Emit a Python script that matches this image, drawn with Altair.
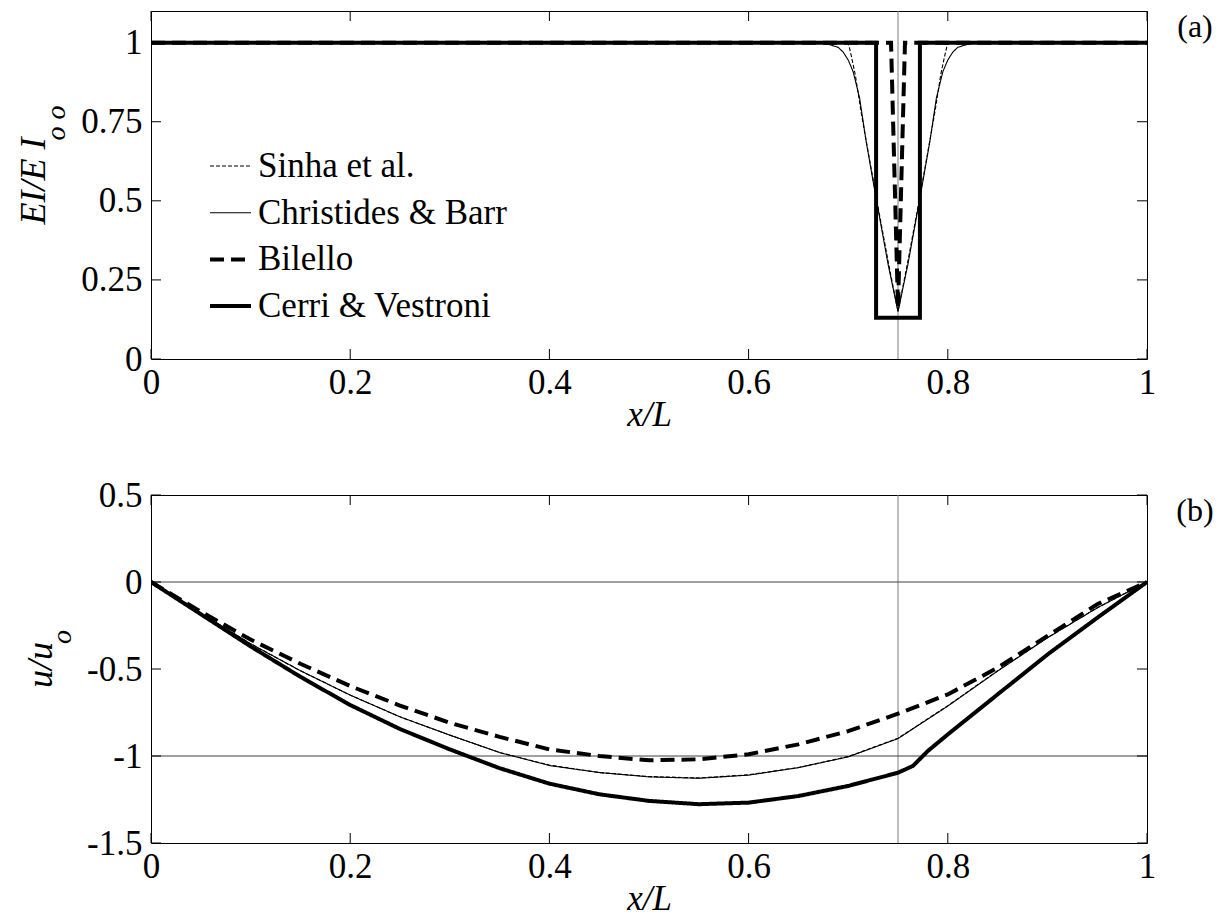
import altair as alt
import pandas as pd

FONT = "Liberation Serif"
SERIES = ["Sinha et al.", "Christides & Barr", "Bilello", "Cerri & Vestroni"]

# ---- Panel (a): EI / Eo Io ----
A_SINHA_X = [0.0, 0.700, 0.703, 0.707, 0.713, 0.722, 0.730, 0.740, 0.750,
             0.760, 0.770, 0.778, 0.787, 0.793, 0.797, 0.800, 1.0]
A_SINHA_Y = [1.0, 1.0, 0.96, 0.90, 0.78, 0.62, 0.48, 0.31, 0.15,
             0.31, 0.48, 0.62, 0.78, 0.90, 0.96, 1.0, 1.0]
A_CHRIS_X = [0.0, 0.670, 0.680, 0.690, 0.695, 0.700, 0.705, 0.7115, 0.718, 0.725,
             0.7316, 0.740, 0.750, 0.760, 0.7684, 0.775, 0.782, 0.7885, 0.795,
             0.800, 0.805, 0.810, 0.820, 0.830, 1.0]
A_CHRIS_Y = [1.0, 1.0, 0.995, 0.985, 0.97, 0.945, 0.908, 0.824, 0.688, 0.562,
             0.446, 0.30, 0.15, 0.30, 0.446, 0.562, 0.688, 0.824, 0.908,
             0.945, 0.97, 0.985, 0.995, 1.0, 1.0]
A_BIL_X = [0.0, 0.743, 0.750, 0.757, 1.0]
A_BIL_Y = [1.0, 1.0, 0.16, 1.0, 1.0]
A_CERRI_X = [0.0, 0.728, 0.728, 0.772, 0.772, 1.0]
A_CERRI_Y = [1.0, 1.0, 0.13, 0.13, 1.0, 1.0]

# ---- Panel (b): u / uo ----
B_X = [0.0, 0.05, 0.10, 0.15, 0.20, 0.25, 0.30, 0.35, 0.40, 0.45, 0.50,
       0.55, 0.60, 0.65, 0.70, 0.75, 0.80, 0.85, 0.90, 0.95, 1.0]
B_SINHA_Y = [0.0, -0.18, -0.355, -0.51, -0.65, -0.775, -0.88, -0.98, -1.052, -1.095, -1.118,
             -1.126, -1.108, -1.066, -1.003, -0.898, -0.711, -0.510, -0.320, -0.148, 0.0]
B_CHRIS_Y = [0.0, -0.18, -0.355, -0.51, -0.65, -0.775, -0.88, -0.98, -1.055, -1.095, -1.12,
             -1.128, -1.11, -1.067, -1.005, -0.90, -0.713, -0.512, -0.321, -0.149, 0.0]
B_BIL_Y = [0.0, -0.17, -0.331, -0.47, -0.598, -0.71, -0.809, -0.89, -0.962, -1.0, -1.025,
           -1.019, -0.99, -0.933, -0.857, -0.757, -0.646, -0.493, -0.31, -0.128, 0.0]
B_CERRI_X = [0.0, 0.05, 0.10, 0.15, 0.20, 0.25, 0.30, 0.35, 0.40, 0.45, 0.50,
             0.55, 0.60, 0.65, 0.70, 0.75, 0.765, 0.78, 0.80, 0.85, 0.90, 0.95, 1.0]
B_CERRI_Y = [0.0, -0.185, -0.37, -0.545, -0.707, -0.845, -0.962, -1.07, -1.159, -1.22, -1.258,
             -1.277, -1.268, -1.23, -1.172, -1.096, -1.057, -0.971, -0.876, -0.646, -0.417, -0.206, 0.0]

X_TICKS = [0, 0.2, 0.4, 0.6, 0.8, 1]
A_Y_TICKS = [0, 0.25, 0.5, 0.75, 1]
B_Y_TICKS = [-1.5, -1, -0.5, 0, 0.5]
CRACK_X = [0.75]
B_HLINES = [0, -1]

# line styles per series: (strokeDash, strokeWidth)
STYLES = [([4, 2], 1.1), ([1, 0], 1.1), ([14, 7], 4.0), ([1, 0], 4.0)]

W, H = 996, 348
TL = 10  # inward tick length


def series_df(xs, ys):
    return pd.DataFrame({"x": xs, "y": ys, "i": list(range(len(xs)))})


A_DATA = [series_df(A_SINHA_X, A_SINHA_Y), series_df(A_CHRIS_X, A_CHRIS_Y),
          series_df(A_BIL_X, A_BIL_Y), series_df(A_CERRI_X, A_CERRI_Y)]
B_DATA = [series_df(B_X, B_SINHA_Y), series_df(B_X, B_CHRIS_Y),
          series_df(B_X, B_BIL_Y), series_df(B_CERRI_X, B_CERRI_Y)]


def txt(t, x, y, size, style="normal", angle=0, align="center", baseline="alphabetic"):
    return alt.Chart(pd.DataFrame({"t": [t]})).mark_text(
        font=FONT, fontSize=size, fontStyle=style, angle=angle, align=align,
        baseline=baseline, color="black").encode(
        text="t:N", x=alt.value(x), y=alt.value(y))


def panel(datas, ydom, yticks, with_legend, ytitle, ysub, ysub_y, ytitle_x, ysub_x, tag, hlines):
    xs = alt.Scale(domain=[0, 1], nice=False, zero=False)
    ys = alt.Scale(domain=ydom, nice=False, zero=False)
    xaxis = alt.Axis(values=X_TICKS, labelExpr="datum.value + ''", labelFlush=False,
                     labelOverlap=False, labelPadding=6, labelFont=FONT, labelFontSize=35,
                     labelColor="black", title="x/L", titleFont=FONT, titleFontSize=35,
                     titleFontStyle="italic", titleFontWeight="normal", titleColor="black",
                     titlePadding=-3)
    yaxis = alt.Axis(values=yticks, labelExpr="datum.value + ''", labelFlush=False,
                     labelOverlap=False, labelPadding=9, labelFont=FONT, labelFontSize=35,
                     labelColor="black", title=None)

    layers = []
    layers.append(alt.Chart(pd.DataFrame({"v": CRACK_X})).mark_rule(
        color="#7f7f7f", strokeWidth=1).encode(
        x=alt.X("v:Q", scale=xs, axis=xaxis)))
    if hlines:
        layers.append(alt.Chart(pd.DataFrame({"v": hlines})).mark_rule(
            color="#404040", strokeWidth=1).encode(
            y=alt.Y("v:Q", scale=ys, axis=yaxis)))

    for d, (dash, sw) in zip(datas, STYLES):
        layers.append(alt.Chart(d).mark_line(
            color="black", strokeDash=dash, strokeWidth=sw, strokeCap="butt",
            strokeJoin="miter", clip=True).encode(
            x=alt.X("x:Q", scale=xs, axis=xaxis),
            y=alt.Y("y:Q", scale=ys, axis=yaxis),
            order=alt.Order("i:Q")))

    xt = pd.DataFrame({"v": X_TICKS})
    yt = pd.DataFrame({"v": yticks})
    layers.append(alt.Chart(xt).mark_rule(color="black", strokeWidth=1).encode(
        x=alt.X("v:Q", scale=xs, axis=xaxis), y=alt.value(H), y2=alt.value(H - TL)))
    layers.append(alt.Chart(xt).mark_rule(color="black", strokeWidth=1).encode(
        x=alt.X("v:Q", scale=xs, axis=xaxis), y=alt.value(0), y2=alt.value(TL)))
    layers.append(alt.Chart(yt).mark_rule(color="black", strokeWidth=1).encode(
        y=alt.Y("v:Q", scale=ys, axis=yaxis), x=alt.value(0), x2=alt.value(TL)))
    layers.append(alt.Chart(yt).mark_rule(color="black", strokeWidth=1).encode(
        y=alt.Y("v:Q", scale=ys, axis=yaxis), x=alt.value(W), x2=alt.value(W - TL)))

    if with_legend:
        for k, (name, (dash, sw)) in enumerate(zip(SERIES, STYLES)):
            ry = 155 + 46.7 * k
            layers.append(alt.Chart(pd.DataFrame({"s": [name]})).mark_rule(
                color="black", strokeDash=dash, strokeWidth=sw, strokeCap="butt").encode(
                x=alt.value(59), x2=alt.value(100), y=alt.value(ry)))
            layers.append(txt(name, 107, ry, 35, "normal", 0, "left", "middle"))

    layers.append(txt(ytitle, ytitle_x, H / 2 - 4, 36, "italic", 270))
    layers.append(txt(ysub, ysub_x, ysub_y, 28, "italic", 270))
    layers.append(txt(tag, W + 48, 16, 32, "normal", 0, "center", "middle"))

    return alt.layer(*layers).properties(width=W, height=H)


top = panel(A_DATA, [0, 1.1], A_Y_TICKS, True, "EI/E I", "o  o", 112, -106, -86, "(a)", None)
bottom = panel(B_DATA, [-1.5, 0.5], B_Y_TICKS, False, "u/u", "o", 142, -99, -80, "(b)", B_HLINES)

chart = alt.vconcat(top, bottom, spacing=136, bounds="flush").properties(
    padding={"left": 7, "top": 2, "right": 5, "bottom": 2}
).configure_view(stroke="black", strokeWidth=1).configure_axis(
    domain=False, ticks=False, grid=False,
    labelFont=FONT, labelFontSize=35, labelColor="black",
    titleFont=FONT, titleFontSize=35, titleColor="black", titleFontWeight="normal"
)

chart.save("out.html", embed_options={"renderer": "svg", "actions": False})
